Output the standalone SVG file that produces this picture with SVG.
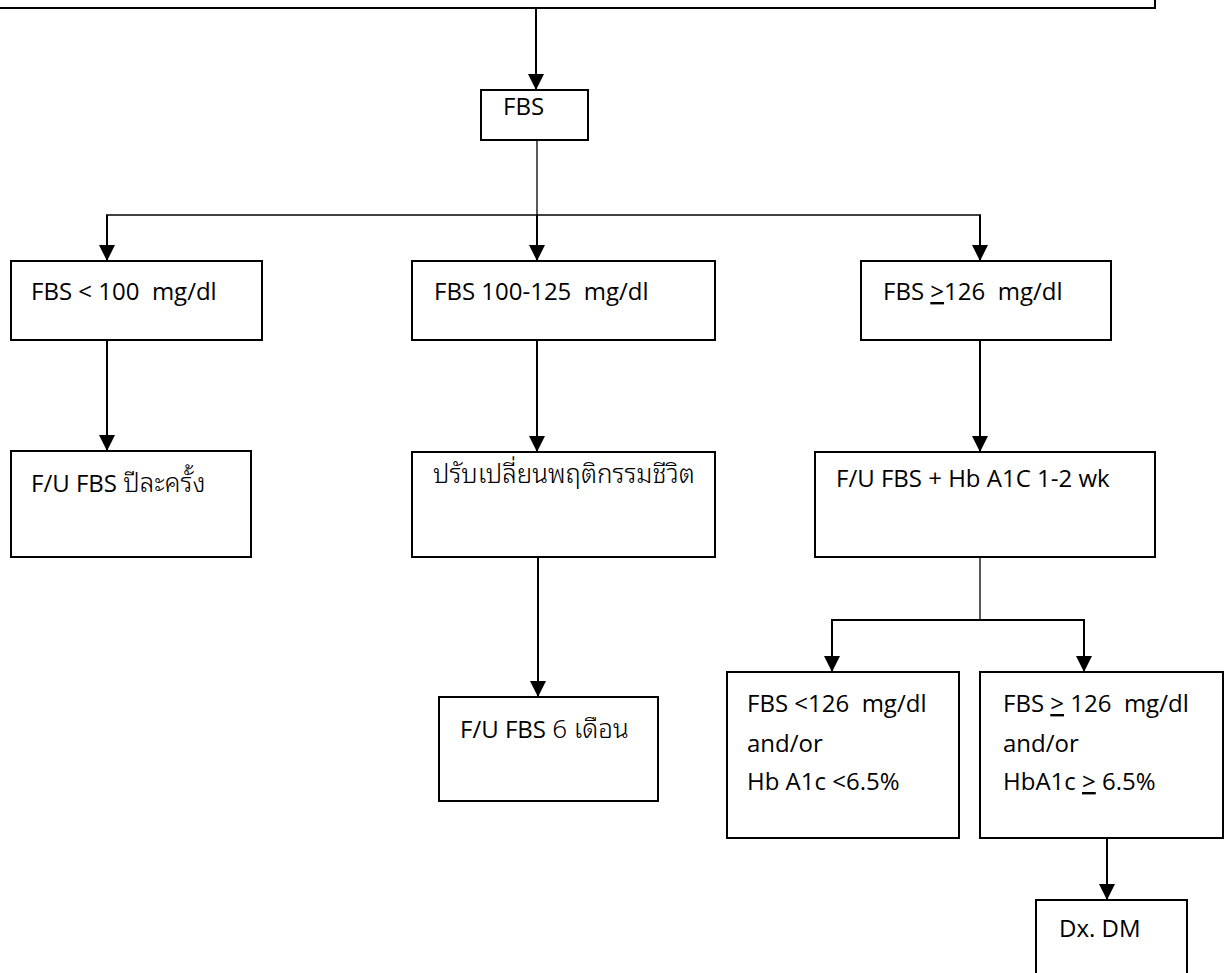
<svg xmlns="http://www.w3.org/2000/svg" width="1230" height="973" viewBox="0 0 1230 973">
<style>
.box{fill:#fff;stroke:#000;stroke-width:2}
.t{font-family:"Open Sans","Noto Sans","Noto Sans Thai",sans-serif;font-size:24px;fill:#000;white-space:pre}
.th{font-family:"Noto Sans Thai Looped","Noto Serif Thai","Noto Sans Thai","Loma","Garuda",serif;font-size:26px;font-weight:300}
.u{text-decoration:underline}
.c{fill:none;stroke:#000;stroke-width:2}
.thin{fill:none;stroke:#000;stroke-width:1.3}
</style>
<defs>
<marker id="ah" markerUnits="userSpaceOnUse" markerWidth="16" markerHeight="16" viewBox="0 0 16 16" refX="16" refY="8" orient="auto">
<path d="M0,0 L16,8 L0,16 Z" fill="#000"/>
</marker>
</defs>
<rect width="1230" height="973" fill="#fff"/>
<g id="connectors">
<line class="c" x1="536" y1="8" x2="536" y2="90" marker-end="url(#ah)"/>
<line class="thin" x1="537" y1="140" x2="537" y2="215"/>
<line class="thin" x1="106" y1="215" x2="981" y2="215"/>
<line class="c" x1="107" y1="215" x2="107" y2="261" marker-end="url(#ah)"/>
<line class="c" x1="537" y1="215" x2="537" y2="261" marker-end="url(#ah)"/>
<line class="c" x1="980" y1="215" x2="980" y2="261" marker-end="url(#ah)"/>
<line class="c" x1="107" y1="340" x2="107" y2="451" marker-end="url(#ah)"/>
<line class="c" x1="537" y1="340" x2="537" y2="452" marker-end="url(#ah)"/>
<line class="c" x1="980" y1="340" x2="980" y2="452" marker-end="url(#ah)"/>
<line class="c" x1="538" y1="557" x2="538" y2="697" marker-end="url(#ah)"/>
<line class="thin" x1="980" y1="557" x2="980" y2="620"/>
<line class="c" x1="831" y1="620" x2="1085" y2="620"/>
<line class="c" x1="832" y1="620" x2="832" y2="672" marker-end="url(#ah)"/>
<line class="c" x1="1084" y1="620" x2="1084" y2="672" marker-end="url(#ah)"/>
<line class="c" x1="1107" y1="838" x2="1107" y2="900" marker-end="url(#ah)"/>
</g>
<g id="top">
<rect class="box" x="-5" y="-60" width="1160" height="68"/>
</g>
<g id="fbs">
<rect class="box" x="481" y="90" width="107" height="50"/>
<text class="t" x="503" y="115">FBS</text>
</g>
<g id="lt100">
<rect class="box" x="11" y="261" width="251" height="79"/>
<text class="t" x="31" y="300">FBS &lt; 100  mg/dl</text>
</g>
<g id="mid">
<rect class="box" x="412" y="261" width="303" height="79"/>
<text class="t" x="434" y="300">FBS 100-125  mg/dl</text>
</g>
<g id="ge126">
<rect class="box" x="861" y="261" width="250" height="79"/>
<text class="t" x="883" y="300">FBS <tspan class="u">&gt;</tspan>126  mg/dl</text>
</g>
<g id="yearly">
<rect class="box" x="11" y="451" width="240" height="106"/>
<text class="t" x="31" y="492">F/U FBS <tspan class="th">ปีละครั้ง</tspan></text>
</g>
<g id="lifestyle">
<rect class="box" x="412" y="452" width="303" height="105"/>
<text class="t th" x="433" y="483">ปรับเปลี่ยนพฤติกรรมชีวิต</text>
</g>
<g id="hba1c">
<rect class="box" x="815" y="452" width="340" height="105"/>
<text class="t" x="836" y="487">F/U FBS + Hb A1C 1-2 wk</text>
</g>
<g id="sixmonth">
<rect class="box" x="439" y="697" width="219" height="104"/>
<text class="t" x="460" y="738">F/U FBS <tspan class="th">6 เดือน</tspan></text>
</g>
<g id="normal">
<rect class="box" x="727" y="672" width="232" height="166"/>
<text class="t" x="747" y="712">FBS &lt;126  mg/dl</text>
<text class="t" x="747" y="752">and/or</text>
<text class="t" x="747" y="790">Hb A1c &lt;6.5%</text>
</g>
<g id="diabetic">
<rect class="box" x="980" y="672" width="243" height="166"/>
<text class="t" x="1003" y="712">FBS <tspan class="u">&gt;</tspan> 126  mg/dl</text>
<text class="t" x="1003" y="752">and/or</text>
<text class="t" x="1003" y="790">HbA1c <tspan class="u">&gt;</tspan> 6.5%</text>
</g>
<g id="dxdm">
<rect class="box" x="1036" y="900" width="151" height="90"/>
<text class="t" x="1059" y="937">Dx. DM</text>
</g>
</svg>
